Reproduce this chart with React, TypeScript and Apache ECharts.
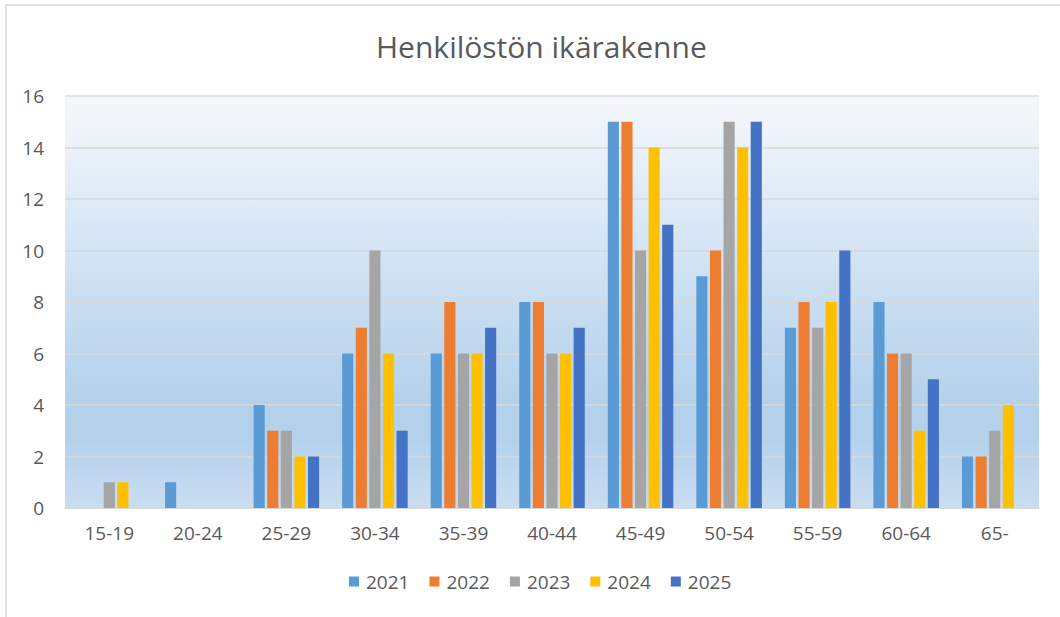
import React, { useEffect, useRef } from "react";
import * as echarts from "echarts";

const categories = ["15-19", "20-24", "25-29", "30-34", "35-39", "40-44", "45-49", "50-54", "55-59", "60-64", "65-"];
const years = ["2021", "2022", "2023", "2024", "2025"];
const colors = ["#5B9BD5", "#ED7D31", "#A5A5A5", "#FFC000", "#4472C4"];
const v2021 = [0, 1, 4, 6, 6, 8, 15, 9, 7, 8, 2];
const v2022 = [0, 0, 3, 7, 8, 8, 15, 10, 8, 6, 2];
const v2023 = [1, 0, 3, 10, 6, 6, 10, 15, 7, 6, 3];
const v2024 = [1, 0, 2, 6, 6, 6, 14, 14, 8, 3, 4];
const v2025 = [0, 0, 2, 3, 7, 7, 11, 15, 10, 5, 0];
const seriesValues = [v2021, v2022, v2023, v2024, v2025];
const yTicks = { min: 0, max: 16, interval: 2 };

const FONT = "'Open Sans', 'Noto Sans', sans-serif";

export default function App() {
  const ref = useRef<HTMLDivElement>(null);
  useEffect(() => {
    if (!ref.current) return;
    const chart = echarts.init(ref.current, null, { renderer: "svg" });
    chart.setOption({
      animation: false,
      backgroundColor: "#ffffff",
      title: {
        text: "Henkilöstön ikärakenne",
        left: 371,
        top: 26,
        textStyle: { fontFamily: FONT, fontSize: 30, fontWeight: "normal", color: "#595959" },
      },
      legend: {
        top: 567,
        left: 344,
        itemWidth: 10,
        itemHeight: 10,
        itemGap: 20,
        icon: "rect",
        textStyle: { fontFamily: FONT, fontSize: 19, color: "#595959", padding: [0, 0, 0, 2] },
        data: years,
      },
      grid: {
        left: 65,
        right: 21,
        top: 96,
        bottom: 109,
        show: true,
        borderWidth: 0,
        backgroundColor: new echarts.graphic.LinearGradient(0, 0, 0, 1, [
          { offset: 0, color: "#F5F8FC" },
          { offset: 0.74, color: "#B4D1EC" },
          { offset: 0.83, color: "#B4D1EC" },
          { offset: 1, color: "#CADDF1" },
        ]),
      },
      graphic: [
        {
          type: "rect",
          shape: { x: 6, y: 5, width: 1080, height: 640 },
          style: { fill: "none", stroke: "#D9D9D9", lineWidth: 1.5 },
          silent: true,
        },
      ],
      xAxis: {
        type: "category",
        data: categories,
        axisLine: { lineStyle: { color: "#D9D9D9", width: 1.5 } },
        axisTick: { show: false },
        axisLabel: { fontFamily: FONT, fontSize: 19, color: "#595959", margin: 15 },
      },
      yAxis: {
        type: "value",
        min: yTicks.min,
        max: yTicks.max,
        interval: yTicks.interval,
        axisLine: { show: false },
        axisTick: { show: false },
        splitLine: { lineStyle: { color: "#D9D9D9", width: 1.5 } },
        axisLabel: { fontFamily: FONT, fontSize: 19, color: "#595959", margin: 21 },
      },
      series: years.map((y, i) => ({
        name: y,
        type: "bar",
        data: seriesValues[i],
        itemStyle: { color: colors[i] },
        barGap: "22%",
        barCategoryGap: "26%",
      })),
    });
    return () => chart.dispose();
  }, []);
  return <div ref={ref} style={{ position: "fixed", left: 0, top: 0, width: 1060, height: 617 }} />;
}
